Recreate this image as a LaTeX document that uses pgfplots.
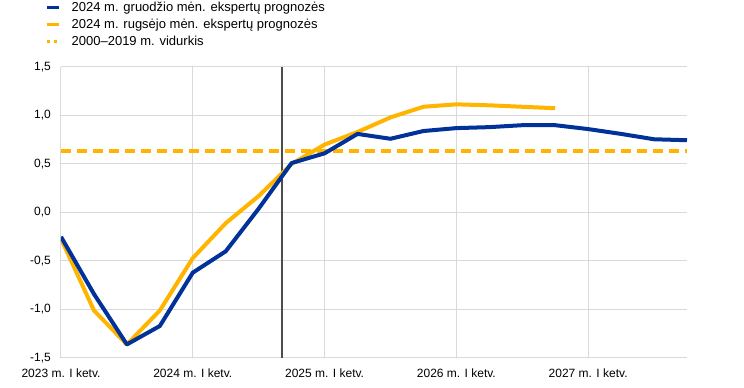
\documentclass[border=0pt]{standalone}
\usepackage{fontspec}
\setmainfont{Liberation Sans}
\usepackage{pgfplots}
\pgfplotsset{compat=1.18}
\definecolor{ecbblue}{HTML}{003299}
\definecolor{ecbyellow}{HTML}{FFB400}
\definecolor{gridgray}{HTML}{D9D9D9}
\definecolor{vline}{HTML}{4D4D4D}
\begin{document}
\begin{tikzpicture}
\path[use as bounding box] (0,0) rectangle (744bp,388bp);
\begin{axis}[
  at={(61bp,30bp)}, anchor=south west,
  scale only axis, width=626bp, height=291bp,
  xmin=0, xmax=19, ymin=-1.5, ymax=1.5,
  axis line style={draw=none},
  tick style={draw=none},
  grid=major,
  major grid style={gridgray, line width=1bp},
  xtick={0,4,8,12,16},
  xticklabels={2023 m. I ketv.,2024 m. I ketv.,2025 m. I ketv.,2026 m. I ketv.,2027 m. I ketv.},
  ytick={-1.5,-1,-0.5,0,0.5,1,1.5},
  /pgf/number format/.cd, fixed, fixed zerofill, precision=1, use comma, assume math mode=true,
  /pgfplots/.cd,
  yticklabel style={font=\fontsize{12bp}{14bp}\selectfont, inner sep=0pt, anchor=east, xshift=-10bp},
  xticklabel style={font=\fontsize{12bp}{14bp}\selectfont, inner sep=0pt, anchor=north, yshift=-11bp},
  legend style={at={(axis description cs:-0.0256,1.2268)}, anchor=north west, draw=none, fill=none,
    font=\fontsize{13bp}{15bp}\selectfont, inner sep=0pt,
    nodes={inner sep=0pt, text height=10bp, text depth=3bp}, row sep=4bp},
  legend cell align=left,
  legend image code/.code={\draw[#1, line width=3.5bp] (0bp,0bp) -- (12bp,0bp);},
  every axis legend/.append style={/tikz/every odd column/.append style={column sep=11bp}},
]
\addlegendimage{ecbblue, solid}
\addlegendentry{2024 m. gruodžio mėn. ekspertų prognozės}
\addlegendimage{ecbyellow, solid}
\addlegendentry{2024 m. rugsėjo mėn. ekspertų prognozės}
\addlegendimage{ecbyellow, dash pattern=on 3.5bp off 3.5bp}
\addlegendentry{2000–2019 m. vidurkis}

\addplot[vline, line width=2bp, forget plot] coordinates {(6.7,-1.5) (6.7,1.5)};
\addplot[ecbyellow, line width=4bp, dash pattern=on 10bp off 6bp, forget plot] coordinates {(0,0.63) (19,0.63)};
\addplot[ecbyellow, line width=4bp, line join=round, forget plot] coordinates {
(0,-0.27) (1,-1.01) (2,-1.36) (3,-1.01) (4,-0.47) (5,-0.11) (6,0.17) (7,0.50)
(8,0.70) (9,0.83) (10,0.98) (11,1.09) (12,1.115) (13,1.105) (14,1.09) (15,1.075)};
\addplot[ecbblue, line width=4bp, line join=round, forget plot] coordinates {
(0,-0.25) (1,-0.84) (2,-1.36) (3,-1.17) (4,-0.62) (5,-0.40) (6,0.04) (7,0.51)
(8,0.61) (9,0.81) (10,0.76) (11,0.84) (12,0.87) (13,0.88) (14,0.90) (15,0.90)
(16,0.86) (17,0.81) (18,0.755) (19,0.745)};
\end{axis}
\end{tikzpicture}
\end{document}
